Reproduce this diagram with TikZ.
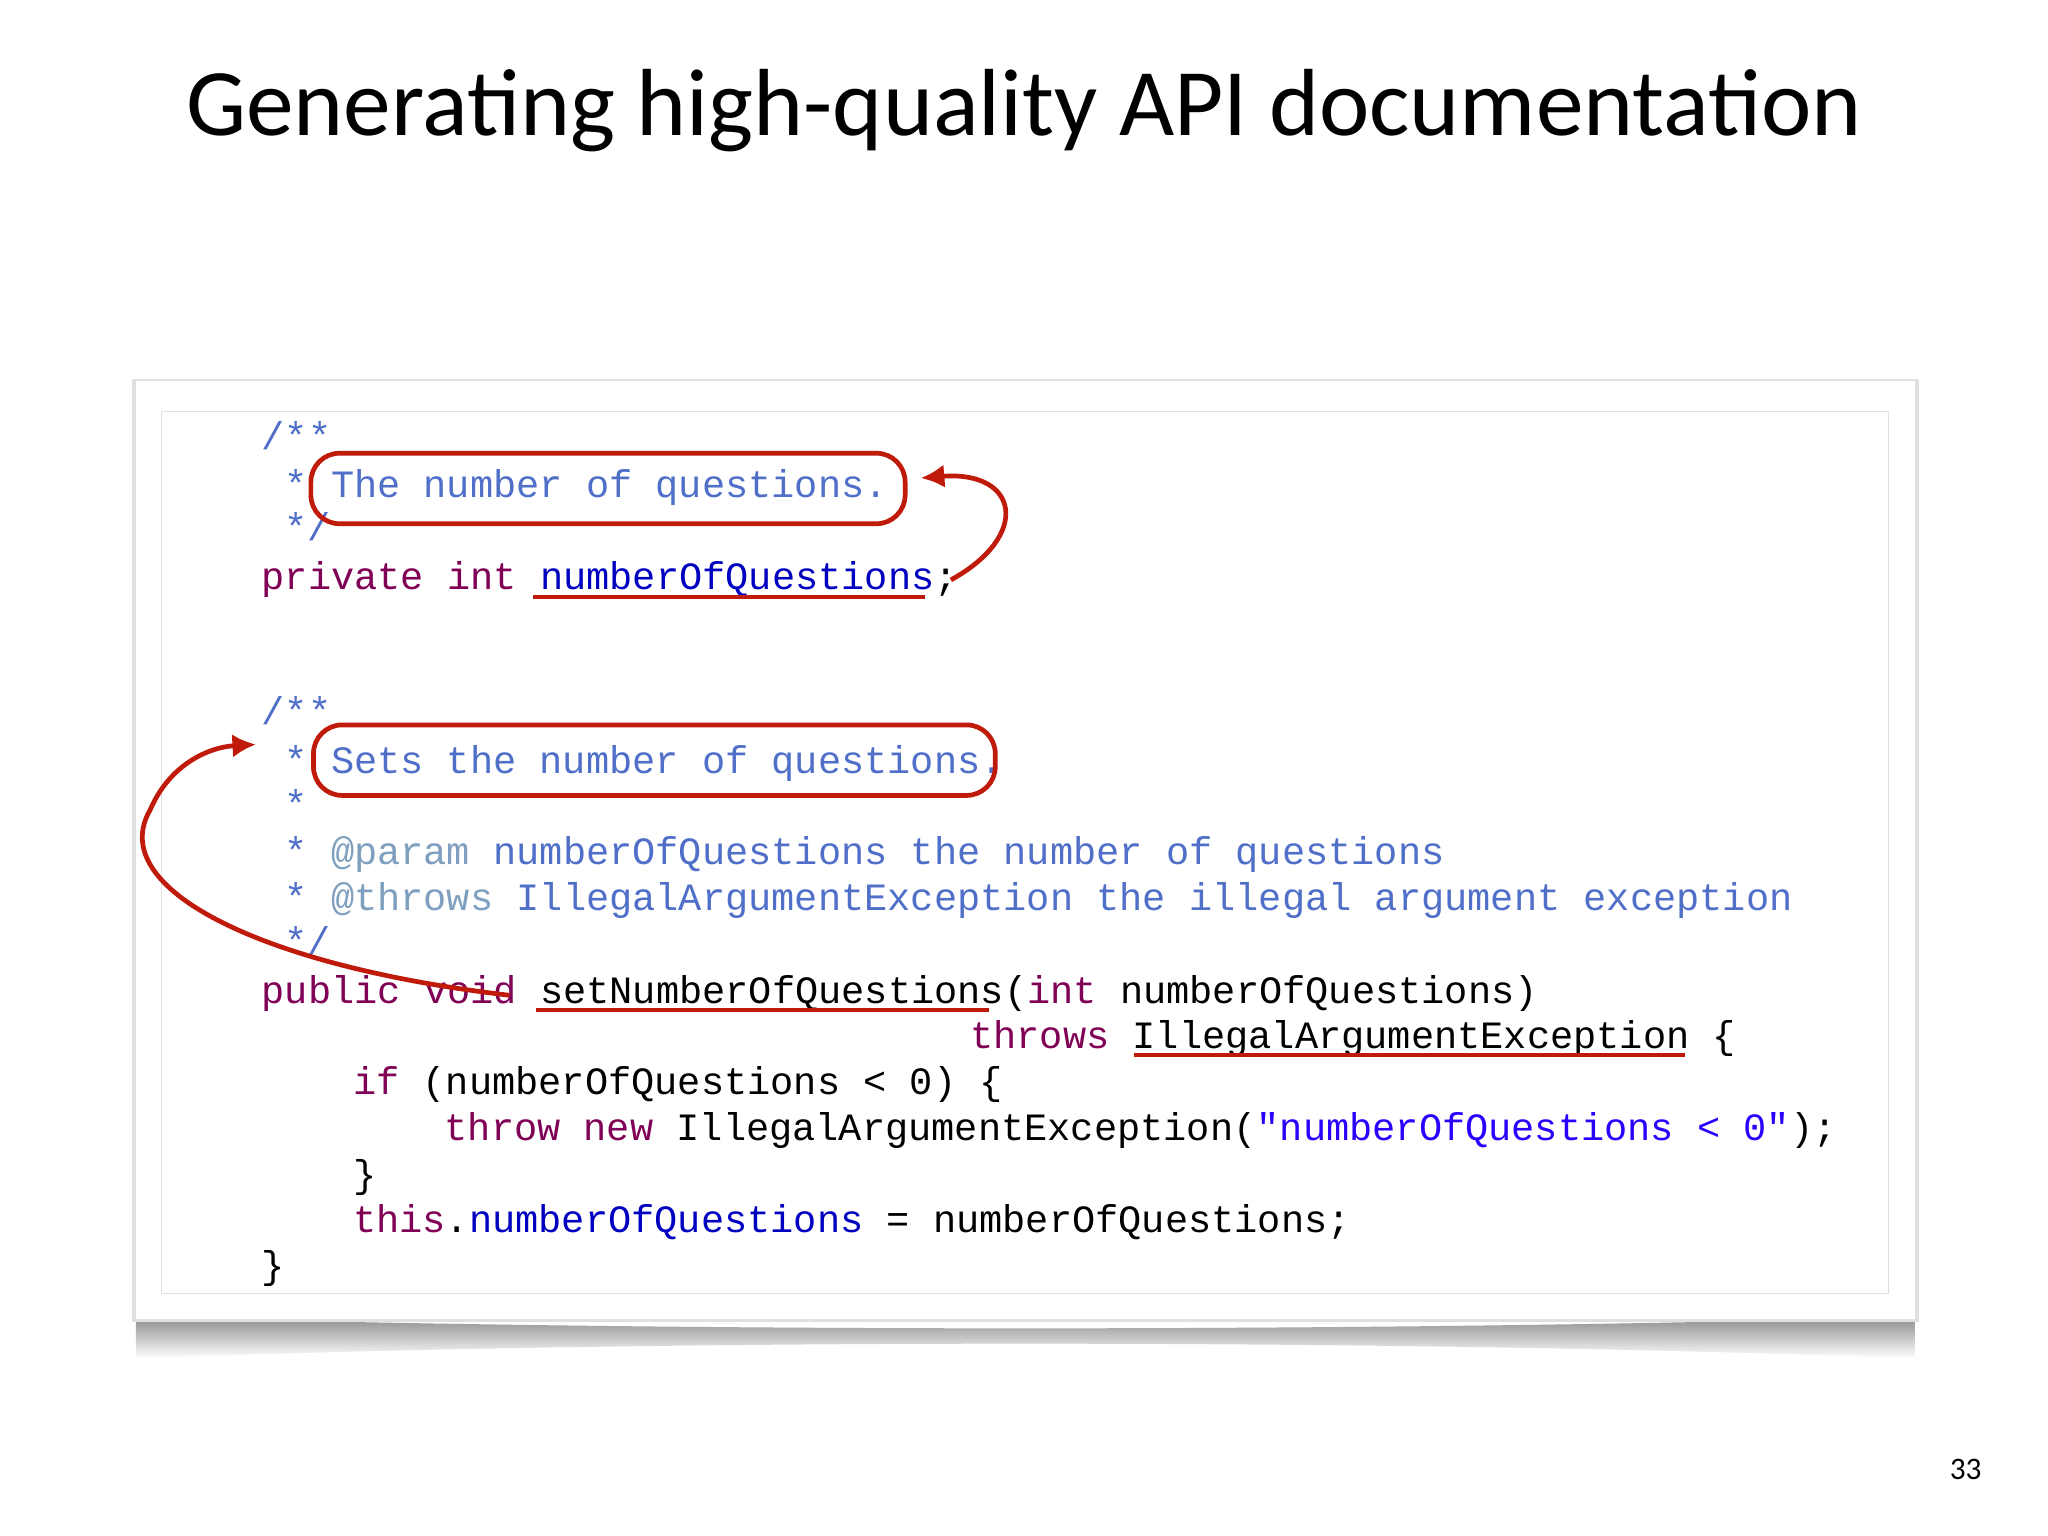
\documentclass[tikz,border=0pt]{standalone}
\usepackage{fontspec}
\setmainfont{Carlito}
\setmonofont{Liberation Mono}
\usetikzlibrary{arrows.meta}
\definecolor{kw}{HTML}{7F0055}
\definecolor{cm}{HTML}{4F6FC8}
\definecolor{fld}{HTML}{0000C0}
\definecolor{tag}{HTML}{7F9FBF}
\definecolor{str}{HTML}{2A00FF}
\definecolor{ann}{HTML}{C01A0A}
\newcommand\K[1]{\textcolor{kw}{#1}}
\newcommand\C[1]{\textcolor{cm}{#1}}
\newcommand\F[1]{\textcolor{fld}{#1}}
\newcommand\T[1]{\textcolor{tag}{#1}}
\newcommand\St[1]{\textcolor{str}{#1}}
\begin{document}
\begin{tikzpicture}[x=0.5pt,y=-0.5pt,
  code/.style={anchor=base west,inner sep=0pt,font=\ttfamily\fontsize{14.8}{17}\selectfont},
  hilite/.style={draw=ann,line width=1.8pt,rounded corners=11pt},
  uline/.style={draw=ann,line width=1.6pt},
  conn/.style={draw=ann,line width=1.8pt,-{Latex[length=9pt,width=9pt]}}]
\useasboundingbox (0,0) rectangle (1568,1176);
\fill[white] (0,0) rectangle (1568,1176);
% title
\node[font=\fontsize{36.5}{44}\selectfont] (title) at (784,85) {Generating high-quality API documentation};
\node[font=\fontsize{12}{14}\selectfont] (pg) at (1505,1125) {33};
% frame with shadow
\shade[top color=black!45,bottom color=white] (104,1008) .. controls (500,1020) and (1070,1020) .. (1466,1008) -- (1466,1040) .. controls (1070,1025) and (500,1025) .. (104,1040) -- cycle;
\fill[black!12] (101,290) rectangle (1469,1012);
\fill[white] (104,292) rectangle (1466,1010);
\draw[black!12] (124,315) rectangle (1446,990);
% code
\def\cw{17.5}
\newcommand\cl[3]{\node[code] at ({200+#1*\cw},{#2+9}) {#3};}
\cl{0}{335}{\C{/**}}
\cl{1}{372}{\C{* The number of questions.}}
\cl{1}{405}{\C{*/}}
\cl{0}{442}{\K{private int}\ \F{numberOfQuestions};}
\cl{0}{546}{\C{/**}}
\cl{1}{583}{\C{* Sets the number of questions.}}
\cl{1}{617}{\C{*}}
\cl{1}{653}{\C{*}\ \T{@param}\ \C{numberOfQuestions the number of questions}}
\cl{1}{688}{\C{*}\ \T{@throws}\ \C{IllegalArgumentException the illegal argument exception}}
\cl{1}{722}{\C{*/}}
\cl{0}{759}{\K{public void}\ setNumberOfQuestions(\K{int}\ numberOfQuestions)}
\cl{31}{794}{\K{throws}\ IllegalArgumentException \{}
\cl{4}{829}{\K{if}\ (numberOfQuestions < 0) \{}
\cl{8}{864}{\K{throw new}\ IllegalArgumentException(\St{"numberOfQuestions < 0"});}
\cl{4}{900}{\}}
\cl{4}{935}{\K{this}.\F{numberOfQuestions}\ = numberOfQuestions;}
\cl{0}{970}{\}}
% annotations
\draw[hilite] (238,347) rectangle (693,401);
\draw[hilite] (240,555) rectangle (762,609);
\coordinate (u1a) at (408,457); \coordinate (u1b) at (708,457);
\coordinate (u2a) at (410,773); \coordinate (u2b) at (757,773);
\coordinate (u3a) at (868,808); \coordinate (u3b) at (1290,808);
\draw[uline] (u1a) -- (u1b);
\draw[uline] (u2a) -- (u2b);
\draw[uline] (u3a) -- (u3b);
\coordinate (a1s) at (728,444); \coordinate (a1e) at (705,366);
\coordinate (a2s) at (390,762); \coordinate (a2e) at (196,570);
\draw[conn] (a1s) .. controls (790,410) and (780,360) .. (a1e);
\draw[conn] (a2s) .. controls (200,740) and (80,680) .. (115,620) .. controls (130,585) and (160,572) .. (a2e);
\end{tikzpicture}
\end{document}
